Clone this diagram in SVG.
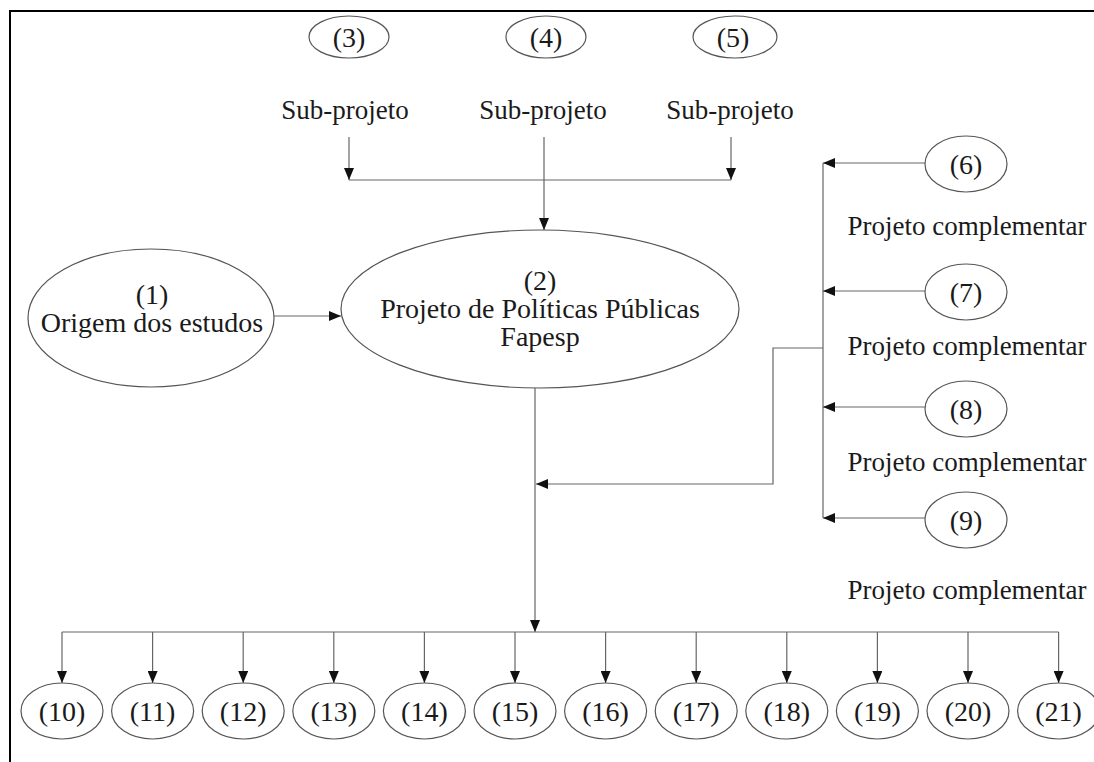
<svg xmlns="http://www.w3.org/2000/svg" width="1094" height="762" viewBox="0 0 1094 762">
<defs>
<marker id="ah" viewBox="0 0 12 10" refX="12" refY="5" markerWidth="12" markerHeight="10" markerUnits="userSpaceOnUse" orient="auto">
<path d="M0,0 L12,5 L0,10 z" fill="#111"/>
</marker>
<style>
.n{fill:#fff;stroke:#555;stroke-width:1.2}
.t{font-family:"Liberation Serif","Times New Roman",serif;font-size:28px;fill:#1a1a1a;text-anchor:middle}
.s{font-size:27px}
.c{fill:none;stroke:#666;stroke-width:1.2}
.a{marker-end:url(#ah)}
</style>
</defs>
<rect width="1094" height="762" fill="#fff"/>
<path d="M10,762 V11 H1094" fill="none" stroke="#000" stroke-width="2"/>
<g id="connectors">
<path class="c a" d="M349,137 V180"/>
<path class="c a" d="M731,137 V180"/>
<path class="c" d="M349,180 H731"/>
<path class="c a" d="M544,137 V230"/>
<path class="c a" d="M273,316 H341"/>
<path class="c" d="M823,163 V518"/>
<path class="c a" d="M925,163 H823"/>
<path class="c a" d="M925,291 H823"/>
<path class="c a" d="M925,407 H823"/>
<path class="c a" d="M925,518 H823"/>
<path class="c a" d="M823,348 H773 V484 H536"/>
<path class="c a" d="M535,388 V632"/>
<path class="c" d="M62,632 H1058.6"/>
<path class="c a" d="M62,632 V683"/>
<path class="c a" d="M152.6,632 V683"/>
<path class="c a" d="M243.2,632 V683"/>
<path class="c a" d="M333.8,632 V683"/>
<path class="c a" d="M424.4,632 V683"/>
<path class="c a" d="M515,632 V683"/>
<path class="c a" d="M605.6,632 V683"/>
<path class="c a" d="M696.2,632 V683"/>
<path class="c a" d="M786.8,632 V683"/>
<path class="c a" d="M877.4,632 V683"/>
<path class="c a" d="M968,632 V683"/>
<path class="c a" d="M1058.6,632 V683"/>
</g>
<g id="n1"><ellipse class="n" cx="151" cy="318" rx="123" ry="69"/><text class="t" x="152" y="304">(1)</text><text class="t" x="152" y="332">Origem dos estudos</text></g>
<g id="n2"><ellipse class="n" cx="540" cy="309" rx="199" ry="79"/><text class="t" x="540" y="290">(2)</text><text class="t" x="540" y="318">Projeto de Políticas Públicas</text><text class="t" x="540" y="346">Fapesp</text></g>
<g id="n3"><ellipse class="n" cx="349" cy="37" rx="40" ry="21"/><text class="t" x="349" y="47">(3)</text><text class="t s" x="345" y="119">Sub-projeto</text></g>
<g id="n4"><ellipse class="n" cx="546" cy="37" rx="40" ry="21"/><text class="t" x="546" y="47">(4)</text><text class="t s" x="543" y="119">Sub-projeto</text></g>
<g id="n5"><ellipse class="n" cx="735" cy="37" rx="42" ry="21"/><text class="t" x="733" y="47">(5)</text><text class="t s" x="730" y="119">Sub-projeto</text></g>
<g id="n6"><ellipse class="n" cx="966" cy="164" rx="41" ry="28"/><text class="t" x="966" y="174">(6)</text><text class="t s" x="967" y="235">Projeto complementar</text></g>
<g id="n7"><ellipse class="n" cx="966" cy="292" rx="41" ry="28"/><text class="t" x="966" y="302">(7)</text><text class="t s" x="967" y="355">Projeto complementar</text></g>
<g id="n8"><ellipse class="n" cx="966" cy="409" rx="41" ry="28"/><text class="t" x="966" y="419">(8)</text><text class="t s" x="967" y="471">Projeto complementar</text></g>
<g id="n9"><ellipse class="n" cx="966" cy="520" rx="41" ry="28"/><text class="t" x="966" y="530">(9)</text><text class="t s" x="967" y="599">Projeto complementar</text></g>
<g id="n10"><ellipse class="n" cx="62" cy="711" rx="41" ry="28"/><text class="t" x="62" y="721">(10)</text></g>
<g id="n11"><ellipse class="n" cx="152.6" cy="711" rx="41" ry="28"/><text class="t" x="152.6" y="721">(11)</text></g>
<g id="n12"><ellipse class="n" cx="243.2" cy="711" rx="41" ry="28"/><text class="t" x="243.2" y="721">(12)</text></g>
<g id="n13"><ellipse class="n" cx="333.8" cy="711" rx="41" ry="28"/><text class="t" x="333.8" y="721">(13)</text></g>
<g id="n14"><ellipse class="n" cx="424.4" cy="711" rx="41" ry="28"/><text class="t" x="424.4" y="721">(14)</text></g>
<g id="n15"><ellipse class="n" cx="515" cy="711" rx="41" ry="28"/><text class="t" x="515" y="721">(15)</text></g>
<g id="n16"><ellipse class="n" cx="605.6" cy="711" rx="41" ry="28"/><text class="t" x="605.6" y="721">(16)</text></g>
<g id="n17"><ellipse class="n" cx="696.2" cy="711" rx="41" ry="28"/><text class="t" x="696.2" y="721">(17)</text></g>
<g id="n18"><ellipse class="n" cx="786.8" cy="711" rx="41" ry="28"/><text class="t" x="786.8" y="721">(18)</text></g>
<g id="n19"><ellipse class="n" cx="877.4" cy="711" rx="41" ry="28"/><text class="t" x="877.4" y="721">(19)</text></g>
<g id="n20"><ellipse class="n" cx="968" cy="711" rx="41" ry="28"/><text class="t" x="968" y="721">(20)</text></g>
<g id="n21"><ellipse class="n" cx="1058.6" cy="711" rx="41" ry="28"/><text class="t" x="1058.6" y="721">(21)</text></g>
</svg>
